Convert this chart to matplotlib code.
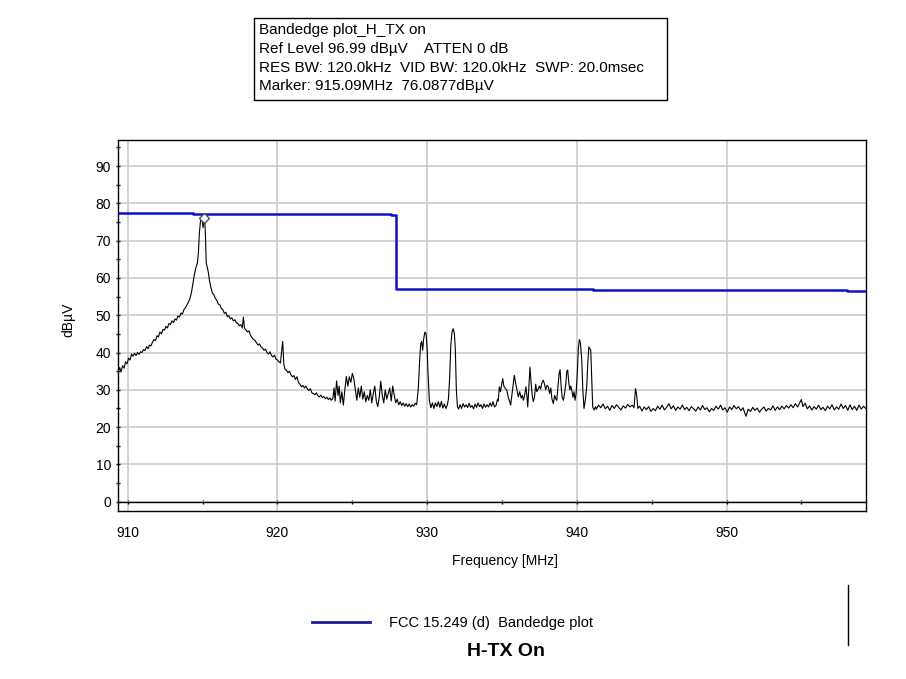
import matplotlib
matplotlib.use("Agg")
import matplotlib.pyplot as plt
from matplotlib.lines import Line2D
from matplotlib.patches import Rectangle
from matplotlib.ticker import MultipleLocator

plt.rcParams['font.family'] = ['Liberation Sans', 'DejaVu Sans']

# --- header (analyzer settings) ---
plot_name = "Bandedge plot_H_TX on"
ref_level = 96.99
atten_db = 0
res_bw = "120.0kHz"
vid_bw = "120.0kHz"
sweep = "20.0msec"
marker_freq = 915.09
marker_level = 76.0877

freq_mhz = [
    909.33, 909.45, 909.55, 909.65, 909.75, 909.85, 909.95, 910.05, 910.15, 910.25,
    910.35, 910.45, 910.55, 910.65, 910.75, 910.85, 910.95, 911.05, 911.15, 911.25,
    911.35, 911.45, 911.55, 911.65, 911.75, 911.85, 911.95, 912.05, 912.15, 912.25,
    912.35, 912.45, 912.55, 912.65, 912.75, 912.85, 912.95, 913.05, 913.15, 913.25,
    913.35, 913.45, 913.55, 913.65, 913.75, 913.85, 913.95, 914.05, 914.15, 914.25,
    914.35, 914.45, 914.55, 914.65, 914.72, 914.78, 914.85, 914.92, 914.98, 915.03,
    915.09, 915.14, 915.19, 915.24, 915.30, 915.38, 915.45, 915.55, 915.65, 915.75,
    915.85, 915.95, 916.05, 916.15, 916.25, 916.35, 916.45, 916.55, 916.65, 916.75,
    916.85, 916.95, 917.05, 917.15, 917.25, 917.35, 917.45, 917.55, 917.65, 917.72,
    917.80, 917.90, 918.00, 918.10, 918.20, 918.30, 918.40, 918.50, 918.60, 918.70,
    918.80, 918.90, 919.00, 919.10, 919.20, 919.30, 919.40, 919.50, 919.60, 919.70,
    919.80, 919.90, 920.00, 920.10, 920.20, 920.28, 920.35, 920.42, 920.50, 920.60,
    920.70, 920.80, 920.90, 921.00, 921.10, 921.20, 921.30, 921.40, 921.50, 921.60,
    921.70, 921.80, 921.90, 922.00, 922.10, 922.20, 922.30, 922.40, 922.50, 922.60,
    922.70, 922.80, 922.90, 923.00, 923.10, 923.20, 923.30, 923.40, 923.50, 923.60,
    923.70, 923.78, 923.85, 923.95, 924.05, 924.12, 924.20, 924.30, 924.40, 924.50,
    924.60, 924.70, 924.80, 924.90, 925.00, 925.10, 925.20, 925.30, 925.40, 925.50,
    925.60, 925.70, 925.80, 925.90, 926.00, 926.10, 926.20, 926.30, 926.40, 926.50,
    926.60, 926.70, 926.80, 926.90, 927.00, 927.10, 927.20, 927.30, 927.40, 927.50,
    927.60, 927.70, 927.80, 927.90, 928.00, 928.10, 928.20, 928.30, 928.40, 928.50,
    928.60, 928.70, 928.80, 928.90, 929.00, 929.10, 929.20, 929.30, 929.41, 929.50,
    929.57, 929.63, 929.70, 929.76, 929.85, 929.93, 930.00, 930.05, 930.15, 930.25,
    930.35, 930.45, 930.55, 930.65, 930.75, 930.85, 930.95, 931.05, 931.15, 931.25,
    931.35, 931.42, 931.50, 931.58, 931.66, 931.74, 931.82, 931.88, 931.95, 932.02,
    932.10, 932.20, 932.30, 932.40, 932.50, 932.60, 932.70, 932.80, 932.90, 933.00,
    933.10, 933.20, 933.30, 933.40, 933.50, 933.60, 933.70, 933.80, 933.90, 934.00,
    934.10, 934.20, 934.30, 934.40, 934.50, 934.60, 934.70, 934.75, 934.82, 934.90,
    934.98, 935.05, 935.12, 935.20, 935.32, 935.42, 935.50, 935.58, 935.66, 935.75,
    935.82, 935.90, 936.00, 936.09, 936.18, 936.28, 936.36, 936.43, 936.52, 936.60,
    936.67, 936.72, 936.80, 936.87, 936.94, 937.02, 937.09, 937.17, 937.25, 937.33,
    937.43, 937.50, 937.58, 937.66, 937.76, 937.84, 937.92, 938.00, 938.10, 938.18,
    938.26, 938.34, 938.43, 938.52, 938.60, 938.66, 938.74, 938.82, 938.88, 938.95,
    939.02, 939.10, 939.18, 939.26, 939.33, 939.39, 939.46, 939.53, 939.60, 939.66,
    939.74, 939.81, 939.88, 939.95, 940.03, 940.10, 940.17, 940.24, 940.33, 940.40,
    940.48, 940.56, 940.66, 940.73, 940.80, 940.87, 940.93, 941.00, 941.06, 941.15,
    941.25, 941.30, 941.45, 941.60, 941.75, 941.90, 942.05, 942.20, 942.35, 942.50,
    942.65, 942.80, 942.95, 943.10, 943.25, 943.40, 943.55, 943.70, 943.82, 943.92,
    944.00, 944.08, 944.20, 944.35, 944.50, 944.65, 944.80, 944.95, 945.10, 945.25,
    945.40, 945.55, 945.70, 945.85, 946.00, 946.15, 946.30, 946.45, 946.60, 946.75,
    946.90, 947.05, 947.20, 947.35, 947.50, 947.65, 947.80, 947.95, 948.10, 948.25,
    948.40, 948.55, 948.70, 948.85, 949.00, 949.15, 949.30, 949.45, 949.60, 949.75,
    949.90, 950.05, 950.20, 950.35, 950.50, 950.65, 950.80, 950.95, 951.10, 951.30,
    951.45, 951.60, 951.75, 951.90, 952.05, 952.20, 952.35, 952.50, 952.65, 952.80,
    952.95, 953.10, 953.25, 953.40, 953.55, 953.70, 953.85, 954.00, 954.15, 954.30,
    954.45, 954.60, 954.75, 954.90, 955.00, 955.10, 955.25, 955.40, 955.55, 955.70,
    955.85, 956.00, 956.15, 956.30, 956.45, 956.60, 956.75, 956.90, 957.05, 957.20,
    957.35, 957.50, 957.65, 957.80, 957.95, 958.10, 958.25, 958.40, 958.55, 958.70,
    958.85, 959.00, 959.15, 959.30,
]
level_dbuv = [
    34.5, 36.0, 34.8, 36.5, 35.8, 37.5, 37.0, 38.5, 38.0, 39.6,
    39.0, 39.8, 39.2, 40.0, 39.5, 40.2, 40.0, 40.8, 40.5, 41.6,
    41.0, 42.0, 41.8, 42.8, 43.5, 43.2, 44.5, 44.2, 45.5, 45.0,
    46.2, 46.0, 47.0, 46.6, 47.8, 47.5, 48.5, 48.0, 49.0, 48.7,
    49.8, 49.5, 50.6, 50.3, 51.5, 52.0, 52.8, 53.5, 54.5, 56.0,
    58.5, 61.0, 62.8, 64.0, 67.0, 72.0, 75.0, 76.0, 75.2, 73.5,
    76.09, 75.5, 71.0, 64.0, 63.0, 61.5, 59.5, 57.5, 56.0, 55.5,
    54.5, 54.0, 53.0, 52.8, 51.8, 51.5, 50.5, 50.8, 49.6, 49.9,
    49.0, 49.3, 48.5, 48.8, 48.0, 47.8, 47.2, 47.5, 46.6, 49.5,
    46.5, 46.0, 45.5, 45.8, 44.6, 44.0, 43.5, 43.2, 42.6, 42.0,
    42.3, 41.5, 41.2, 40.6, 40.9, 40.0, 39.6, 40.2, 39.2, 38.8,
    39.3, 38.2, 38.0, 37.5, 37.2, 40.5, 43.0, 37.0, 35.5, 35.2,
    34.6, 35.0, 34.0, 33.5, 33.8, 32.8, 33.5, 32.0, 31.5, 30.8,
    31.2, 30.5, 31.0, 30.2, 29.8, 30.3, 29.2, 29.0, 28.7, 29.2,
    28.4, 28.1, 28.6, 27.9, 28.2, 27.6, 28.0, 27.4, 27.8, 27.2,
    27.7, 30.5, 27.0, 32.4, 28.5, 31.0, 26.5, 29.5, 25.9, 30.0,
    33.6, 31.0, 33.5, 32.0, 34.4, 33.0, 30.0, 27.2, 30.5, 28.0,
    31.0, 27.5, 29.5, 26.8, 28.5, 27.2, 30.0, 26.5, 29.0, 31.0,
    27.0, 25.5, 28.0, 32.3, 28.5, 26.5, 30.0, 27.5, 29.0, 30.5,
    27.0, 31.0, 28.5, 26.5, 27.5, 26.0, 26.8, 25.8, 26.5, 25.6,
    26.3, 25.5, 26.2, 25.4, 26.0, 25.6, 26.4, 26.0, 30.5, 38.0,
    42.4, 43.0, 40.6, 43.5, 45.5, 45.0, 41.0, 35.0, 27.0, 25.2,
    26.5, 25.0, 26.5, 25.5, 26.8, 25.3, 26.9, 25.1, 26.2, 25.0,
    26.0, 27.5, 33.0, 42.0, 45.5, 46.4, 45.0, 41.0, 30.0, 25.5,
    24.8, 26.0, 25.0, 26.3, 25.4, 26.0, 25.2, 26.4, 25.3, 25.8,
    24.9, 26.2, 25.3, 26.5, 25.5, 26.0, 25.0, 26.2, 25.3, 26.0,
    25.4, 26.5, 25.6, 26.8, 25.4, 25.8, 27.5, 27.0, 30.8, 29.5,
    31.5, 33.0, 31.0, 30.5, 29.9, 28.0, 27.0, 25.9, 28.5, 31.5,
    33.9, 32.0, 30.0, 28.1, 29.5, 27.8, 28.5, 27.2, 28.8, 30.8,
    28.0, 25.4, 31.0, 36.1, 32.0, 28.5, 26.8, 28.0, 31.5, 29.5,
    30.3, 31.0, 30.2, 31.8, 32.6, 31.5, 30.0, 31.2, 30.8, 29.0,
    30.5, 27.5, 26.3, 28.5, 27.5, 27.2, 31.0, 34.5, 35.4, 31.0,
    28.0, 27.2, 29.0, 31.5, 35.0, 35.3, 32.0, 30.0, 31.0, 29.9,
    28.0, 29.5, 27.2, 29.0, 34.4, 41.0, 43.5, 42.5, 37.9, 30.0,
    25.0, 27.0, 30.8, 37.0, 41.5, 41.0, 40.6, 32.0, 25.4, 24.6,
    25.5, 24.8, 25.9, 25.2, 26.2, 24.9, 25.6, 24.5, 25.8, 25.0,
    26.0, 25.3, 24.6, 25.7, 25.1, 26.1, 25.4, 25.9, 25.2, 30.3,
    28.5, 25.0, 25.6, 24.3, 25.4, 24.7, 25.5, 24.2, 25.0, 24.4,
    25.6, 24.8, 25.9, 24.6, 25.3, 26.3, 24.9, 25.7, 24.5, 25.4,
    24.8, 25.9, 24.7, 25.3, 24.4, 25.5, 24.9, 24.3, 25.4, 24.6,
    25.8, 24.7, 25.2, 24.1, 25.0, 24.5, 25.6, 24.8, 25.9, 24.6,
    25.2, 24.0, 25.4, 24.7, 25.8, 24.9, 25.5, 24.4, 25.2, 22.9,
    24.8, 24.2, 25.3, 24.5, 25.1, 24.0, 24.8, 25.4, 24.3, 25.0,
    24.6, 25.7, 24.5, 25.4, 24.7, 25.6, 24.9, 25.8, 25.1, 26.0,
    25.2, 26.3, 25.4, 26.6, 27.4, 25.5, 26.4, 24.9, 25.7, 24.6,
    25.5, 24.8, 25.9, 24.7, 25.3, 24.4, 25.6, 24.9, 26.0, 24.6,
    25.4, 24.8, 26.2, 25.0, 25.8, 24.5, 26.0, 24.7, 25.6, 24.5,
    25.9, 24.8, 25.6, 25.0,
]

# --- FCC 15.249 (d) limit line (step breakpoints) ---
limit_freq = [909.33, 914.38, 927.60, 927.92, 941.10, 958.07, 959.31]
limit_level = [77.5, 77.1, 76.9, 57.0, 56.7, 56.4, 56.4]
limit_name = "FCC 15.249 (d)  Bandedge plot"

x_range = (909.33, 959.31)
y_range = (-2.5, ref_level)
x_ticks = [910, 920, 930, 940, 950]
y_ticks = [0, 10, 20, 30, 40, 50, 60, 70, 80, 90]

limit_color = "#0c12c4"
grid_color = "#c8c8c8"

fig = plt.figure(figsize=(9.06, 6.79), dpi=100)
ax = fig.add_axes([0.130, 0.2474, 0.8257, 0.5464])

ax.step(limit_freq, limit_level, where="post", color=limit_color, lw=1.8, zorder=3)
ax.plot(freq_mhz, level_dbuv, color="black", lw=0.8, zorder=4)
ax.plot(marker_freq, marker_level, marker="D", ms=5.5, mfc="white",
        mec="#555555", mew=1.0, zorder=5)

ax.set_xlim(*x_range)
ax.set_ylim(*y_range)
ax.set_xticks(x_ticks)
ax.set_yticks(y_ticks)
ax.xaxis.set_minor_locator(MultipleLocator(5))
ax.yaxis.set_minor_locator(MultipleLocator(5))

# the frequency axis sits on the 0 dB line, the box still closes below it
ax.spines["bottom"].set_position(("data", 0))
for s in ax.spines.values():
    s.set_color("black")
    s.set_linewidth(1.0)
ax.plot([0, 1], [0, 0], transform=ax.transAxes, color="black", lw=1.0, clip_on=False)

ax.grid(True, which="major", color=grid_color, lw=1.1)
ax.set_axisbelow(True)
ax.tick_params(axis="both", which="both", direction="inout", length=3.5,
               width=1.0, colors="black", labelsize=10)
ax.tick_params(axis="x", which="major", pad=16)
ax.tick_params(axis="y", which="major", pad=3)

# --- header box ---
fig.add_artist(Rectangle((0.2804, 0.8527), 0.4555, 0.1212, transform=fig.transFigure,
                         fill=False, edgecolor="black", lw=1.0))
header_lines = [
    plot_name,
    f"Ref Level {ref_level:.2f} dBµV    ATTEN {atten_db} dB",
    f"RES BW: {res_bw}  VID BW: {vid_bw}  SWP: {sweep}",
    f"Marker: {marker_freq:.2f}MHz  {marker_level:.4f}dBµV",
]
for txt, yy in zip(header_lines, [0.9558, 0.9278, 0.8999, 0.8733]):
    fig.text(0.2862, yy, txt, ha="left", va="center", fontsize=11)

# axis titles
fig.text(0.0751, 0.5287, "dBµV", rotation=90, ha="center", va="center", fontsize=10)
fig.text(0.5574, 0.1738, "Frequency [MHz]", ha="center", va="center", fontsize=10)

# legend
fig.add_artist(Line2D([0.3444, 0.4084], [0.0839, 0.0839], color="#1c1ca0", lw=2.0))
fig.text(0.4294, 0.0825, limit_name, ha="left", va="center", fontsize=10.5)

# caption below the chart
fig.text(0.5585, 0.0398, "H-TX On", ha="center", va="center", fontsize=14,
         fontweight="bold")

# page rule on the right
fig.add_artist(Line2D([0.936, 0.936], [0.1384, 0.0501], color="black", lw=1.0))

fig.savefig("out.png", dpi=100)
